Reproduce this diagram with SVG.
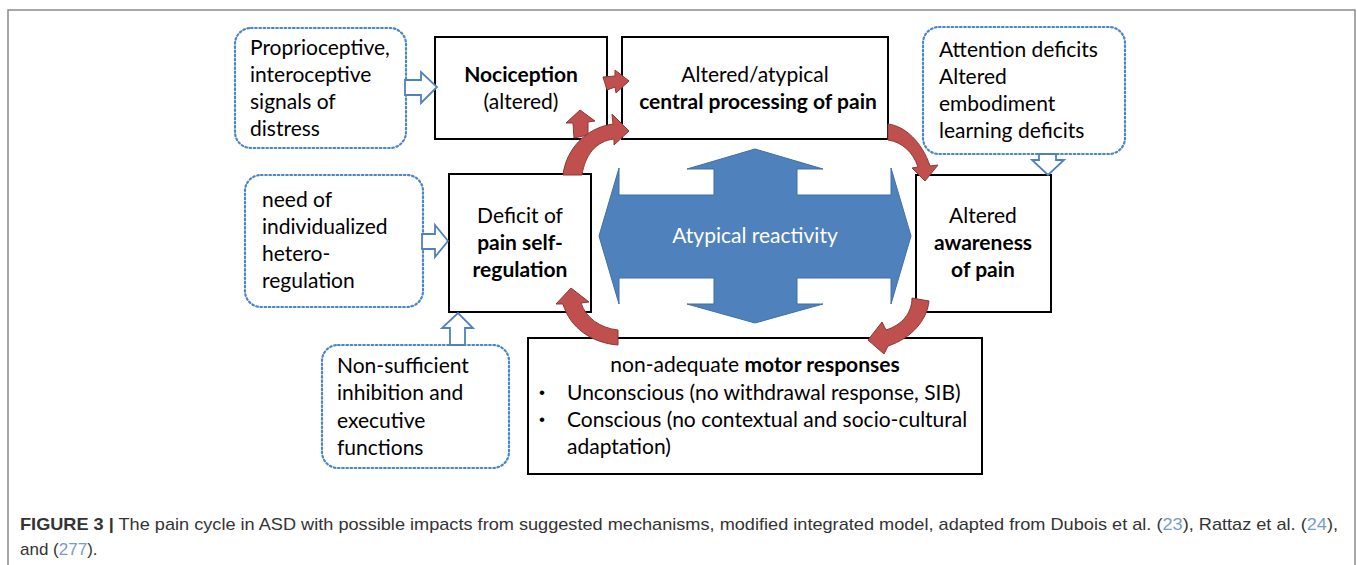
<svg xmlns="http://www.w3.org/2000/svg" width="1357" height="565" viewBox="0 0 1357 565">
<style>
.box{fill:#fff;stroke:#000;stroke-width:2}
.dot{fill:#fff;stroke:#4a86c8;stroke-width:2.2;stroke-dasharray:1.6 2.6;stroke-linecap:round}
.t{font-family:Lato,"Liberation Sans",sans-serif;font-size:21px;fill:#000}
.bul{font-family:"Liberation Sans",sans-serif;font-size:17px;fill:#000}
.b{font-weight:bold}
.c{text-anchor:middle}
.red{fill:#c0504d;stroke:#8c3836;stroke-width:1}
.hol{fill:#fff;stroke:#4f81bd;stroke-width:1.8;stroke-linejoin:miter}
.cap{font-family:"Liberation Sans",Arial,sans-serif;font-size:17px;fill:#333}
.ref{fill:#7a9cc6}
</style>
<path d="M8,565 V10 H1355 V565" fill="none" stroke="#8a8a8a" stroke-width="1.5"/>

<g id="reactivity">
<path d="M755,149 L823,169 L797,169 L797,195 L891,195 L891,168 L911,236 L891,304 L891,278 L797,278 L797,304 L823,304 L755,323 L687,304 L714,304 L714,278 L619,278 L619,304 L599,236 L619,168 L619,195 L714,195 L714,169 L687,169 Z" fill="#4f81bd" stroke="#3f6fa8" stroke-width="1"/>
<text class="t c" x="755" y="243" style="fill:#fff">Atypical reactivity</text>
</g>

<g id="proprio">
<rect class="dot" x="235" y="28" width="171" height="120" rx="16"/>
<text class="t" x="250" y="55">Proprioceptive,</text>
<text class="t" x="250" y="82">interoceptive</text>
<text class="t" x="250" y="109">signals of</text>
<text class="t" x="250" y="136">distress</text>
</g>

<g id="nociception">
<rect class="box" x="435" y="37" width="172" height="102"/>
<text class="t b c" x="521" y="82">Nociception</text>
<text class="t c" x="521" y="109">(altered)</text>
</g>

<g id="central">
<rect class="box" x="622" y="37" width="266" height="102"/>
<text class="t c" x="755" y="82">Altered/atypical</text>
<text class="t b c" x="758" y="109">central processing of pain</text>
</g>

<g id="attention">
<rect class="dot" x="923" y="27" width="202" height="127" rx="16"/>
<text class="t" x="939" y="57">Attention deficits</text>
<text class="t" x="939" y="84">Altered</text>
<text class="t" x="939" y="111">embodiment</text>
<text class="t" x="939" y="138">learning deficits</text>
</g>

<g id="awareness">
<rect class="box" x="916" y="175" width="135" height="137"/>
<text class="t c" x="983" y="223">Altered</text>
<text class="t b c" x="983" y="250">awareness</text>
<text class="t b c" x="983" y="277">of pain</text>
</g>

<g id="deficit">
<rect class="box" x="449" y="174" width="142" height="138"/>
<text class="t c" x="520" y="223">Deficit of</text>
<text class="t b c" x="520" y="250">pain self-</text>
<text class="t b c" x="520" y="277">regulation</text>
</g>

<g id="need">
<rect class="dot" x="245" y="175" width="178" height="132" rx="16"/>
<text class="t" x="262" y="207">need of</text>
<text class="t" x="262" y="234">individualized</text>
<text class="t" x="262" y="261">hetero-</text>
<text class="t" x="262" y="288">regulation</text>
</g>

<g id="nonsufficient">
<rect class="dot" x="322" y="345" width="187" height="123" rx="16"/>
<text class="t" x="337" y="373">Non-sufficient</text>
<text class="t" x="337" y="400">inhibition and</text>
<text class="t" x="337" y="428">executive</text>
<text class="t" x="337" y="455">functions</text>
</g>

<g id="motor">
<rect class="box" x="528" y="338" width="454" height="136"/>
<text class="t c" x="755" y="372">non-adequate <tspan class="b">motor responses</tspan></text>
<text class="bul" x="539" y="398">•</text>
<text class="t" x="567" y="400">Unconscious (no withdrawal response, SIB)</text>
<text class="bul" x="539" y="425">•</text>
<text class="t" x="567" y="427">Conscious (no contextual and socio-cultural</text>
<text class="t" x="567" y="454">adaptation)</text>
</g>

<g id="connectors">
<path class="hol" d="M405,80 H421 V72 L437,87 L421,103 V95 H405 Z"/>
<path class="hol" d="M422,234 H435 V225 L448,241 L435,257 V249 H422 Z"/>
<path class="hol" d="M450,345 V328 H442 L458,313 L473,328 H465 V345 Z"/>
<path class="hol" d="M1039,154 V160 H1032 L1048,175 L1064,160 H1056 V154 Z"/>
<path class="red" d="M603,77 L615,76 L615,70 L629,81 L616,93 L615,87 L607,90 Z"/>
<path class="red" d="M580,110 L595,121 L588,122 L588,135 L574,138 L573,123 L566,123 Z"/>
<path class="red" d="M563,175 C566,150 585,128 613,124 L612,114 L629,131 L614,145 L614,139 C596,141 585,155 582,175 Z"/>
<path class="red" d="M888,124 C905,126 922,142 930,166 L938,165 L925,181 L912,168 L918,167 C913,152 902,142 888,140 Z"/>
<path class="red" d="M912,298 C912,313 902,325 886,330 L882,322 L868,340 L884,354 L888,346 C912,338 927,320 929,301 Z"/>
<path class="red" d="M618,330 C600,328 586,318 581,303 L589,302 L571,288 L556,304 L563,304 C570,328 592,343 618,345 Z"/>
</g>

<g id="caption">
<text class="cap" x="20" y="530" textLength="1318" lengthAdjust="spacingAndGlyphs"><tspan font-weight="bold">FIGURE 3 |</tspan> The pain cycle in ASD with possible impacts from suggested mechanisms, modified integrated model, adapted from Dubois et al. (<tspan class="ref">23</tspan>), Rattaz et al. (<tspan class="ref">24</tspan>),</text>
<text class="cap" x="20" y="555">and (<tspan class="ref">277</tspan>).</text>
</g>
</svg>
